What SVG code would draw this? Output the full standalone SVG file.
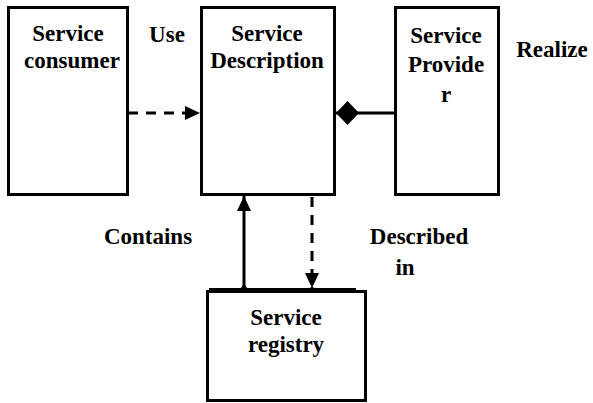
<svg xmlns="http://www.w3.org/2000/svg" width="593" height="403" viewBox="0 0 593 403">
<style>
.box{fill:#fff;stroke:#000;stroke-width:3}
.t{font-family:'Liberation Serif','Times New Roman',serif;font-weight:700;font-size:23px;fill:#000;text-anchor:middle}
.ln{stroke:#000;stroke-width:3;fill:none}
.dash{stroke:#000;stroke-width:3;fill:none;stroke-dasharray:10 8}
</style>
<defs>
<marker id="ah" markerWidth="16" markerHeight="14" refX="15" refY="7" orient="auto" markerUnits="userSpaceOnUse">
<path d="M0,0 L15,7 L0,14 Z" fill="#000"/>
</marker>
<marker id="dm" markerWidth="24" markerHeight="24" refX="23" refY="12" orient="auto" markerUnits="userSpaceOnUse">
<path d="M0,12 L11.5,0 L23,12 L11.5,24 Z" fill="#000"/>
</marker>
</defs>
<g id="consumer">
<rect class="box" x="8.5" y="7.5" width="119" height="187"/>
<text class="t" x="68" y="41">Service</text>
<text class="t" x="72" y="68">consumer</text>
</g>
<g id="description">
<rect class="box" x="201.5" y="7.5" width="133" height="187"/>
<text class="t" x="267" y="41">Service</text>
<text class="t" x="267" y="68">Description</text>
</g>
<g id="provider">
<rect class="box" x="395.5" y="7.5" width="103" height="187"/>
<text class="t" x="446" y="43">Service</text>
<text class="t" x="446" y="72">Provide</text>
<text class="t" x="446" y="102">r</text>
</g>
<g id="registry">
<rect class="box" x="207.5" y="291.5" width="158" height="109"/>
<line x1="209" y1="290" x2="356" y2="290" stroke="#000" stroke-width="4"/>
<text class="t" x="286" y="325">Service</text>
<text class="t" x="286" y="352">registry</text>
</g>
<g id="connectors">
<line class="dash" x1="128" y1="113" x2="200" y2="113" marker-end="url(#ah)"/>
<line class="ln" x1="395" y1="113" x2="336" y2="113" marker-end="url(#dm)"/>
<line class="ln" x1="244" y1="288" x2="244" y2="196" marker-end="url(#ah)"/>
<path d="M240,289 L244,284 L248,289 Z" fill="#000"/>
<line class="dash" x1="312" y1="197" x2="312" y2="288" marker-end="url(#ah)"/>
</g>
<g id="labels">
<text class="t" x="167" y="42">Use</text>
<text class="t" x="552" y="57">Realize</text>
<text class="t" x="148" y="244">Contains</text>
<text class="t" x="419" y="244">Described</text>
<text class="t" x="405" y="275">in</text>
</g>
</svg>
